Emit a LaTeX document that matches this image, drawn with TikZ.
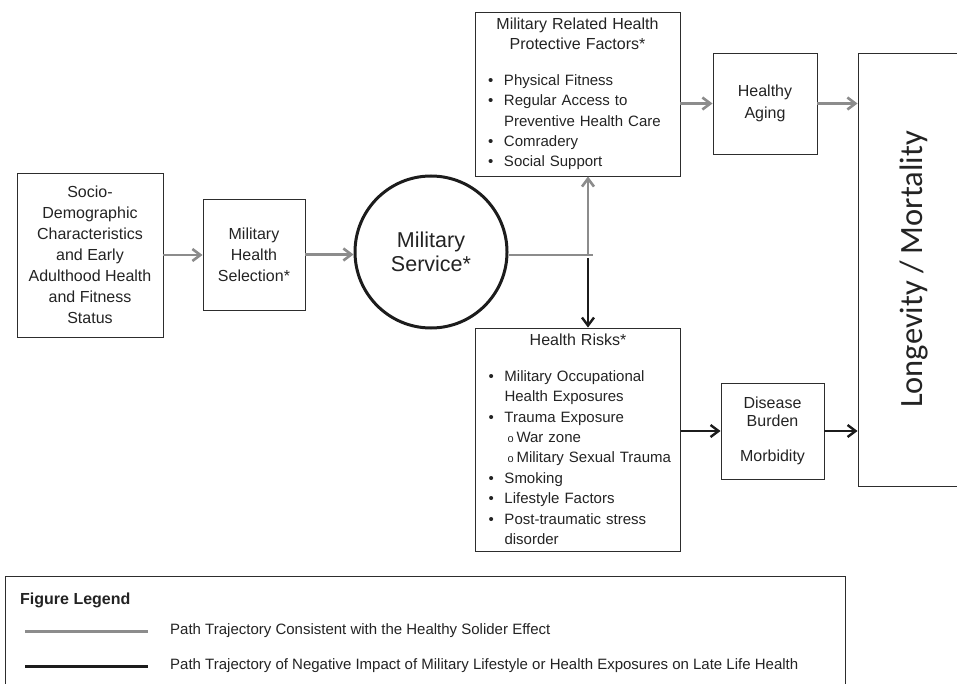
\documentclass[tikz,border=0pt]{standalone}
\usepackage{fontspec}
\setmainfont{Liberation Sans}
\newfontfamily\carlito{Carlito}
\usetikzlibrary{arrows.meta}

\definecolor{pathgray}{RGB}{140,140,140}
\definecolor{pathblack}{RGB}{28,28,28}
\definecolor{boxline}{RGB}{45,45,45}
\definecolor{txt}{RGB}{35,35,35}

\newcommand{\blt}{\hspace*{13pt}\makebox[16pt][l]{\textbullet}}
\newcommand{\sublt}{\hspace*{32pt}\makebox[9pt][l]{\fontsize{11}{11}\selectfont o}}
\newcommand{\cont}{\hspace*{29pt}}
\newcommand{\boxtitle}[1]{\makebox[205pt]{\fontsize{16}{20}\selectfont #1}}

\begin{document}
\begin{tikzpicture}[x=1pt, y=-1pt,
  box/.style={draw=boxline, line width=0.9pt, inner sep=0pt, align=center, text=txt, font=\fontsize{16}{21}\selectfont},
  listbox/.style={box, align=left, text width=205pt, font=\fontsize{15}{20.4}\selectfont},
  grayarrow/.style={draw=pathgray, line width=2.6pt, -{Straight Barb[length=8pt,width=12pt]}},
  blackarrow/.style={draw=pathblack, line width=2.4pt, -{Straight Barb[length=8pt,width=12pt]}}]
\useasboundingbox (0,0) rectangle (957,684);

% Left column
\node[box, minimum width=146, minimum height=164] (socio) at (90,255) {Socio-\\Demographic\\Characteristics\\and Early\\Adulthood Health\\and Fitness\\Status};
\node[box, minimum width=102, minimum height=111] (select) at (254,254.5) {Military\\Health\\Selection*};
\node[draw=pathblack, line width=3pt, circle, minimum size=152, inner sep=0pt, align=center, text=txt, font=\fontsize{21.5}{24}\selectfont] (service) at (431,252) {Military\\Service*};

% Protective factors (top) and risks (bottom)
\node[listbox, minimum height=164] (protect) at (577.5,94) {\boxtitle{Military Related Health}\\\boxtitle{Protective Factors*}\\[15pt]
  \blt Physical Fitness\\\blt Regular Access to\\\cont Preventive Health Care\\\blt Comradery\\\blt Social Support};
\node[listbox, minimum height=223] (risks) at (578,439.5) {\boxtitle{Health Risks*}\\[15pt]
  \blt Military Occupational\\\cont Health Exposures\\\blt Trauma Exposure\\\sublt War zone\\\sublt Military Sexual Trauma\\
  \blt Smoking\\\blt Lifestyle Factors\\\blt Post-traumatic stress\\\cont disorder};

% Outcomes
\node[box, minimum width=104, minimum height=101, font=\fontsize{16}{22}\selectfont] (aging) at (765,103.5) {Healthy\\Aging};
\node[box, minimum width=103, minimum height=96, font=\fontsize{16}{18}\selectfont] (burden) at (772.5,431) {Disease\\Burden\\[17pt]Morbidity};
\node[box, minimum width=112, minimum height=433, font=\carlito\fontsize{32.5}{32.5}\selectfont] (longevity) at (914,269.5) {\rotatebox{90}{Longevity / Mortality}};

% Paths
\draw[grayarrow] (socio.east) -- (socio.east -| select.west);
\draw[grayarrow] (select.east) -- (select.east -| service.west);
\coordinate (split) at (588,255);
\draw[pathgray, line width=2.6pt] (service.east |- split) -- ([xshift=5pt]split);
\draw[grayarrow] (split) -- (split |- protect.south);
\draw[blackarrow] ([yshift=-3pt]split) -- (split |- risks.north);
\draw[grayarrow] (aging.west -| protect.east) -- (aging.west);
\draw[grayarrow] (aging.east) -- (aging.east -| longevity.west);
\draw[blackarrow] (burden.west -| risks.east) -- (burden.west);
\draw[blackarrow] (burden.east) -- (burden.east -| longevity.west);

% Legend
\node[draw=boxline, line width=0.9pt, minimum width=840, minimum height=130, inner sep=0pt] (legend) at (425,641) {};
\node[anchor=west, inner sep=0pt, text=txt, font=\bfseries\fontsize{16}{16}\selectfont] (legtitle) at (20,600) {Figure Legend};
\node[anchor=west, inner sep=0pt, text=txt, font=\fontsize{15}{15}\selectfont] (leggray) at (170,631) {Path Trajectory Consistent with the Healthy Solider Effect};
\node[anchor=west, inner sep=0pt, text=txt, font=\fontsize{15}{15}\selectfont] (legblack) at (170,666) {Path Trajectory of Negative Impact of Military Lifestyle or Health Exposures on Late Life Health};
\coordinate (grayend) at (25,631);
\coordinate (blackend) at (25,666);
\draw[pathgray, line width=3pt] (grayend) -- ([xshift=-22pt]leggray.west);
\draw[pathblack, line width=3pt] (blackend) -- ([xshift=-22pt]legblack.west);

\end{tikzpicture}
\end{document}
